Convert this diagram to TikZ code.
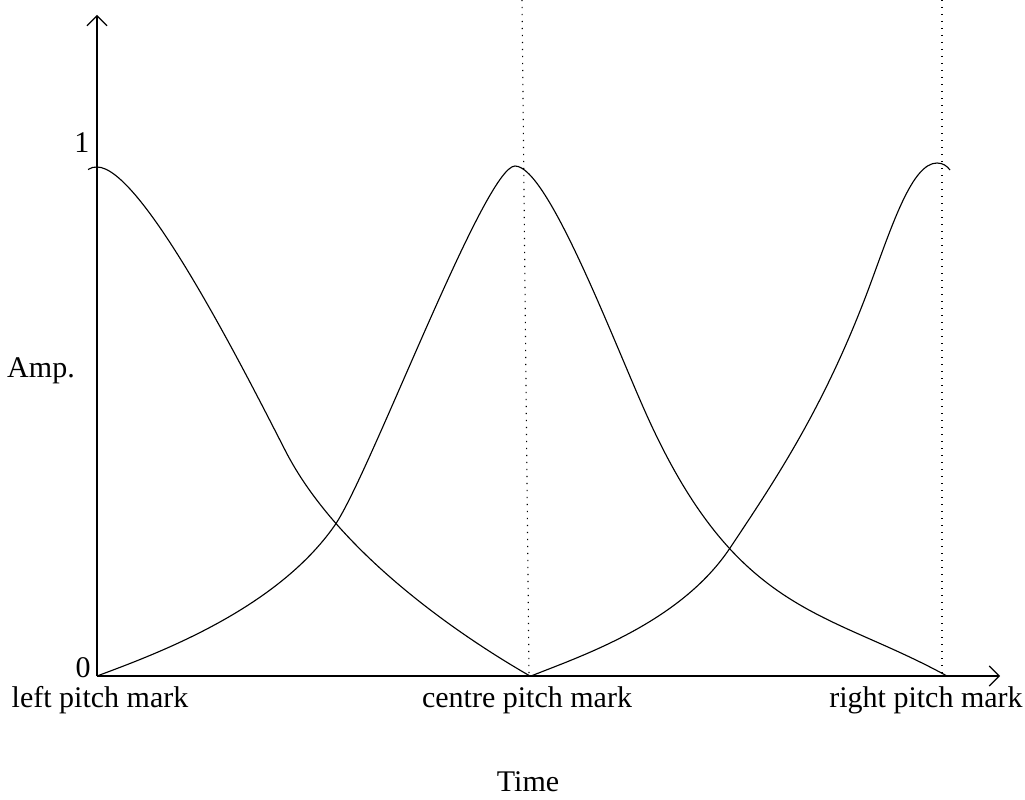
\documentclass[tikz,border=0pt]{standalone}
\usepackage{fontspec}
\setmainfont{Liberation Serif}
\usetikzlibrary{arrows.meta}
\begin{document}
\begin{tikzpicture}[x=0.4pt,y=-0.4pt,
  axis/.style={line width=0.45pt,-{Straight Barb[length=4pt,width=8pt,line width=0.45pt]}},
  curve/.style={line width=0.45pt},
  mark line/.style={line width=0.45pt,dash pattern=on 0.45pt off 2.35pt},
  lbl/.style={font=\fontsize{12}{14}\selectfont,inner sep=0pt}]
\useasboundingbox (0,0) rectangle (1025,799);
\coordinate (O) at (97,676);
\coordinate (ytop) at (97,15);
\coordinate (xend) at (1000,676);
\coordinate (cmtop) at (522,0);
\coordinate (cmbot) at (529,674);
\coordinate (rmtop) at (942,0);
\coordinate (rmbot) at (942,674);
\draw[axis] (O) -- (ytop);
\draw[axis] (O) -- (xend);
\draw[mark line] (cmtop) -- (cmbot);
\draw[mark line] (rmtop) -- (rmbot);
% left window (descending)
\draw[curve] (88,169.5) .. controls (91,167.5) and (94,167) .. (97,167)
  .. controls (141,167) and (241,364) .. (285,450)
  .. controls (334.5,547.5) and (450,630) .. (530,676);
% centre window
\draw[curve] (97,676) .. controls (156,654) and (276,610) .. (335,525)
  .. controls (370,474) and (485,166) .. (515,166)
  .. controls (548,166) and (615,345.4) .. (648,418)
  .. controls (738,616) and (827,610) .. (947,676);
% right window (ascending)
\draw[curve] (531,676) .. controls (581,656) and (680,623) .. (730,548)
  .. controls (775,480.5) and (825,406.5) .. (870,285)
  .. controls (892,225.6) and (912,163) .. (937,163)
  .. controls (943,163) and (947,166) .. (950,170);
\node[lbl,anchor=east] (one) at (90,143) {1};
\node[lbl,anchor=east] (zero) at (91,668) {0};
\node[lbl] (amp) at (41,371) {Amp.};
\node[lbl] (lpm) at (100,700) {left pitch mark};
\node[lbl] (cpm) at (527,700) {centre pitch mark};
\node[lbl] (rpm) at (926,700) {right pitch mark};
\node[lbl] (time) at (528,782) {Time};
\end{tikzpicture}
\end{document}
